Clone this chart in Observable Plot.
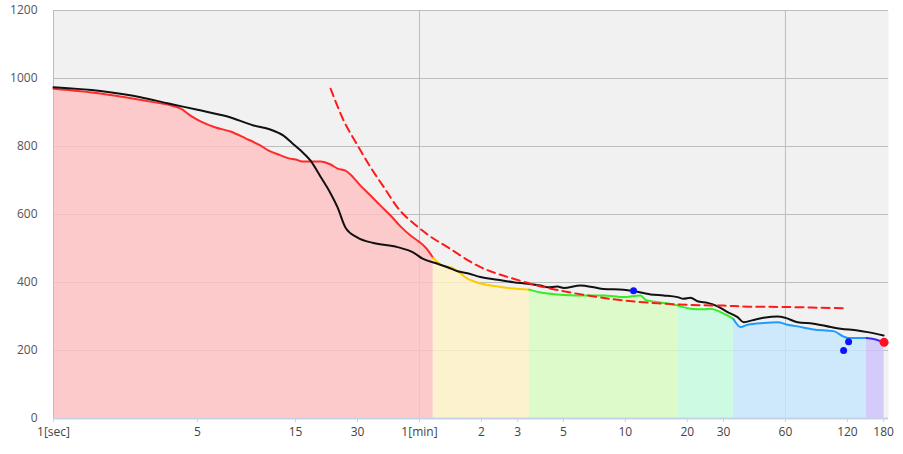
<!DOCTYPE html>
<html>
<head>
<meta charset="utf-8">
<script src="https://cdn.jsdelivr.net/npm/d3@7"></script>
<script src="https://cdn.jsdelivr.net/npm/@observablehq/plot@0.6"></script>
<style>
  html, body { margin: 0; padding: 0; background: #fff; }
  #chart { width: 903px; height: 454px; }
</style>
</head>
<body>
<div id="chart"></div>
<script>
// Current power-duration curve: seconds, watts
const curT = [1,1.69,2.96,3.70,4.14,4.63,5.18,6.13,7.25,8.57,10.1,11.1,12.7,13.9,15.0,16.2,19.8,22.2,24.0,26.2,27.7,31.0,34.7,38.8,43.4,48.5,54.3,59.4,64.2,70,76,88,102,119,144,172,205,240,281,364,440,470,589,712,753,861,996,1088,1245,1439,1556,1741,1946,2014,2180,2356,2819,3296,3687,4124,4932,6166,6900,7216,8917,9662,10850];
const curW = [970,956,932,921,912,891,874,856,844,824,803,788,774,765,762,756,756,747,735,729,718,685,656,626,597,565,538,521,503,472,453,441,412,397,388,382,379,369,365,362,362,362,357,362,349,342,337,332,323,321,323,313,298,292,269,276,281,283,276,271,262,257,241,237,237,234,224];

// Previous best curve (black)
const bestT = [1,1.69,2.65,3.58,5.01,7.01,9.37,11.3,13.1,14.5,15.9,17.7,19.8,22.2,24.0,26.2,30.0,35.9,46.9,56.1,62.1,73.4,82.1,91.9,102.8,118.8,143.6,171.8,201,232,251,281,301,364,421,470,589,658,736,796,921,1077,1151,1245,1346,1506,1683,1884,2107,2255,2520,2819,3296,3603,4124,4932,5970,6672,8069,9025,10790];
const bestW = [974,963,945,927,908,888,862,850,832,809,788,759,712,662,621,562,532,516,504,488,470,455,445,433,427,416,408,401,396,391,386,388,384,391,386,381,379,375,369,365,362,357,352,355,345,340,330,313,298,283,290,296,300,296,283,279,269,264,259,254,244];

// Model curve (red dashed)
const modelT = [22.2,25.7,29.9,34.7,40.3,48.5,58.5,67.9,82.1,118.8,171.8,251,421,589,861,1245,1803,2356,3603,7050];
const modelW = [970,876,805,739,680,610,565,535,504,445,411,384,359,347,339,334,332,329,328,324];

// Marked points
const blueDotT = [658, 6900, 7295];
const blueDotW = [376, 200, 226];
const redDotT = [10850];
const redDotW = [224];

// Zones (boundaries in seconds) and colours
const zoneBounds = [1, 70, 205, 1088, 2014, 8917, 10850];
const zoneFill = ["#ffc0c0", "#fff3c4", "#d7fdc0", "#c3fde0", "#c4e7fe", "#cec2fe"];
const zoneLine = ["#ff2a2a", "#ffcc00", "#33ee22", "#33ee22", "#1e9bff", "#3a2cf0"];

// Axis ticks
const xTicks = [1, 5, 15, 30, 60, 120, 180, 300, 600, 1200, 1800, 3600, 7200, 10800];
const xTickLabels = ["1[sec]", "5", "15", "30", "1[min]", "2", "3", "5", "10", "20", "30", "60", "120", "180"];
const yTicks = [0, 200, 400, 600, 800, 1000, 1200];

const current = curT.map((t, i) => ({t, w: curW[i]}));
const best = bestT.map((t, i) => ({t, w: bestW[i]}));
const model = modelT.map((t, i) => ({t, w: modelW[i]}));
const blueDots = blueDotT.map((t, i) => ({t, w: blueDotW[i]}));
const redDots = redDotT.map((t, i) => ({t, w: redDotW[i]}));
const xLab = xTicks.map((t, i) => ({t, label: xTickLabels[i]}));

const segs = zoneFill.map((f, i) =>
  current.filter(d => d.t >= zoneBounds[i] && d.t <= zoneBounds[i + 1]));

const marks = [
  Plot.frame({fill: "#f1f1f1"}),
  Plot.ruleY(yTicks.filter(v => v > 0), {stroke: "#bdbdbd", strokeWidth: 1}),
  Plot.ruleX([60, 3600], {stroke: "#bdbdbd", strokeWidth: 1}),
];
segs.forEach((s, i) => {
  marks.push(Plot.areaY(s, {x: "t", y: "w", fill: zoneFill[i], fillOpacity: 0.8, curve: "linear"}));
});
marks.push(Plot.ruleX([1], {stroke: "#bdbdbd", strokeWidth: 1}));
marks.push(Plot.ruleY([0], {stroke: "#c5d3e8", strokeWidth: 2}));
segs.forEach((s, i) => {
  marks.push(Plot.line(s, {x: "t", y: "w", stroke: zoneLine[i], strokeWidth: 2, curve: "monotone-x"}));
});
marks.push(Plot.line(best, {x: "t", y: "w", stroke: "#111", strokeWidth: 2, curve: "monotone-x"}));
marks.push(Plot.line(model, {x: "t", y: "w", stroke: "#ff1a1a", strokeWidth: 2, strokeDasharray: "8,5", curve: "catmull-rom"}));
marks.push(Plot.dot(blueDots, {x: "t", y: "w", r: 3.5, fill: "#0a14ff", stroke: "none"}));
marks.push(Plot.dot(redDots, {x: "t", y: "w", r: 4.5, fill: "#ff1020", stroke: "none"}));
marks.push(Plot.axisY({ticks: yTicks, tickSize: 0, tickPadding: 16, tickFormat: d => String(d), fill: "#555", label: null}));
marks.push(Plot.axisX({ticks: xTicks, tickSize: 4, stroke: "#c5d3e8", tickFormat: () => "", label: null}));
marks.push(Plot.text(xLab, {x: "t", text: "label", frameAnchor: "bottom", dy: 14, lineAnchor: "middle", fill: "#444"}));

const chart = Plot.plot({
  width: 903,
  height: 454,
  marginLeft: 53,
  marginRight: 15,
  marginTop: 10,
  marginBottom: 36,
  style: {fontFamily: "'Open Sans', 'DejaVu Sans', sans-serif", fontSize: "12px", background: "#fff"},
  x: {type: "log", domain: [1, 11400], label: null},
  y: {domain: [0, 1200], label: null},
  marks
});
document.getElementById("chart").appendChild(chart);
</script>
</body>
</html>
